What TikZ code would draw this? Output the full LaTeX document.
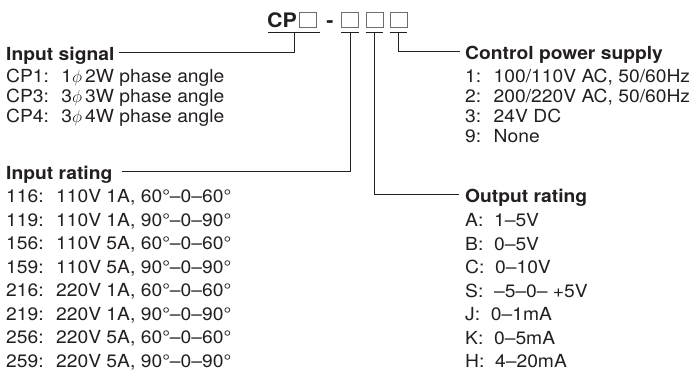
\documentclass[tikz,border=0pt]{standalone}
\usepackage{fontspec}
\setmainfont{TeX Gyre Heros}[FakeStretch=1.07]
\usepackage{tikz}

\definecolor{ink}{HTML}{231F20}
\definecolor{slotgray}{HTML}{6D6E71}

\tikzset{
  row/.style={anchor=base west, inner sep=0pt, text=ink, font=\fontsize{18}{20}\selectfont},
  head/.style={anchor=base west, inner sep=0pt, text=ink, font=\fontsize{18}{20}\selectfont\bfseries},
  code/.style={inner sep=0pt, text=ink, font=\fontsize{20}{22}\selectfont\bfseries},
  slot/.style={draw=slotgray, line width=0.8pt, minimum width=17pt, minimum height=15pt, inner sep=0pt},
  lead/.style={draw=ink, line width=0.9pt},
}

\begin{document}
\begin{tikzpicture}[x=1pt, y=-1pt]
  \useasboundingbox (0,0) rectangle (694,376);

  % type code
  \node [code, anchor=base west] (cp) at (267,27) {CP};
  \node [slot] (b1) at (308,19.5) {};
  \node [code, anchor=base] (hy) at (330,27) {-};
  \node [slot] (b2) at (350,19.5) {};
  \node [slot] (b3) at (374.5,19.5) {};
  \node [slot] (b4) at (398.5,19.5) {};

  \draw [lead] (cp.base west) ++(1,5) -- ++(52,0);
  \foreach \b in {b2,b3,b4}
    \draw [lead] ([yshift=-5pt]\b.south west) -- ([yshift=-5pt]\b.south east);

  \coordinate (t1) at (294,32);
  \coordinate (t2) at ([yshift=-5pt]b2.south);
  \coordinate (t3) at ([yshift=-5pt]b3.south);
  \coordinate (t4) at ([yshift=-5pt]b4.south);

  % headings
  \node [head] (sig) at (6,60) {Input signal};
  \node [head] (rat) at (6,179.5) {Input rating};
  \node [head] (pow) at (465,59.5) {Control power supply};
  \node [head] (out) at (465,202.5) {Output rating};

  \draw [lead] (t1) |- ([xshift=4pt,yshift=3pt]sig.east);
  \draw [lead] (t2) |- ([xshift=9pt,yshift=3pt]rat.east);
  \draw [lead] (t3) |- ([xshift=-6pt,yshift=3pt]out.west);
  \draw [lead] (t4) |- ([xshift=-5pt,yshift=3pt]pow.west);

  % lists
  \foreach \t [count=\i] in {{CP1:~ 1$\phi$\,2W phase angle},
      {CP3:~ 3$\phi$\,3W phase angle}, {CP4:~ 3$\phi$\,4W phase angle}}
    \node [row] (sig\i) at (6,62+20*\i) {\t};

  \foreach \t [count=\i] in {{116:~ 110V 1A, 60°–0–60°}, {119:~ 110V 1A, 90°–0–90°},
      {156:~ 110V 5A, 60°–0–60°}, {159:~ 110V 5A, 90°–0–90°},
      {216:~ 220V 1A, 60°–0–60°}, {219:~ 220V 1A, 90°–0–90°},
      {256:~ 220V 5A, 60°–0–60°}, {259:~ 220V 5A, 90°–0–90°}}
    \node [row] (rat\i) at (6,179+23.5*\i) {\t};

  \foreach \t [count=\i] in {{1:~ 100/110V AC, 50/60Hz}, {2:~ 200/220V AC, 50/60Hz},
      {3:~ 24V DC}, {9:~ None}}
    \node [row] (pow\i) at (465,62.5+20*\i) {\t};

  \foreach \t [count=\i] in {{A:~ 1–5V}, {B:~ 0–5V}, {C:~ 0–10V}, {S:~ –5–0– +5V},
      {J:~ 0–1mA}, {K:~ 0–5mA}, {H:~ 4–20mA}}
    \node [row] (out\i) at (465,203+23.5*\i) {\t};
\end{tikzpicture}
\end{document}
